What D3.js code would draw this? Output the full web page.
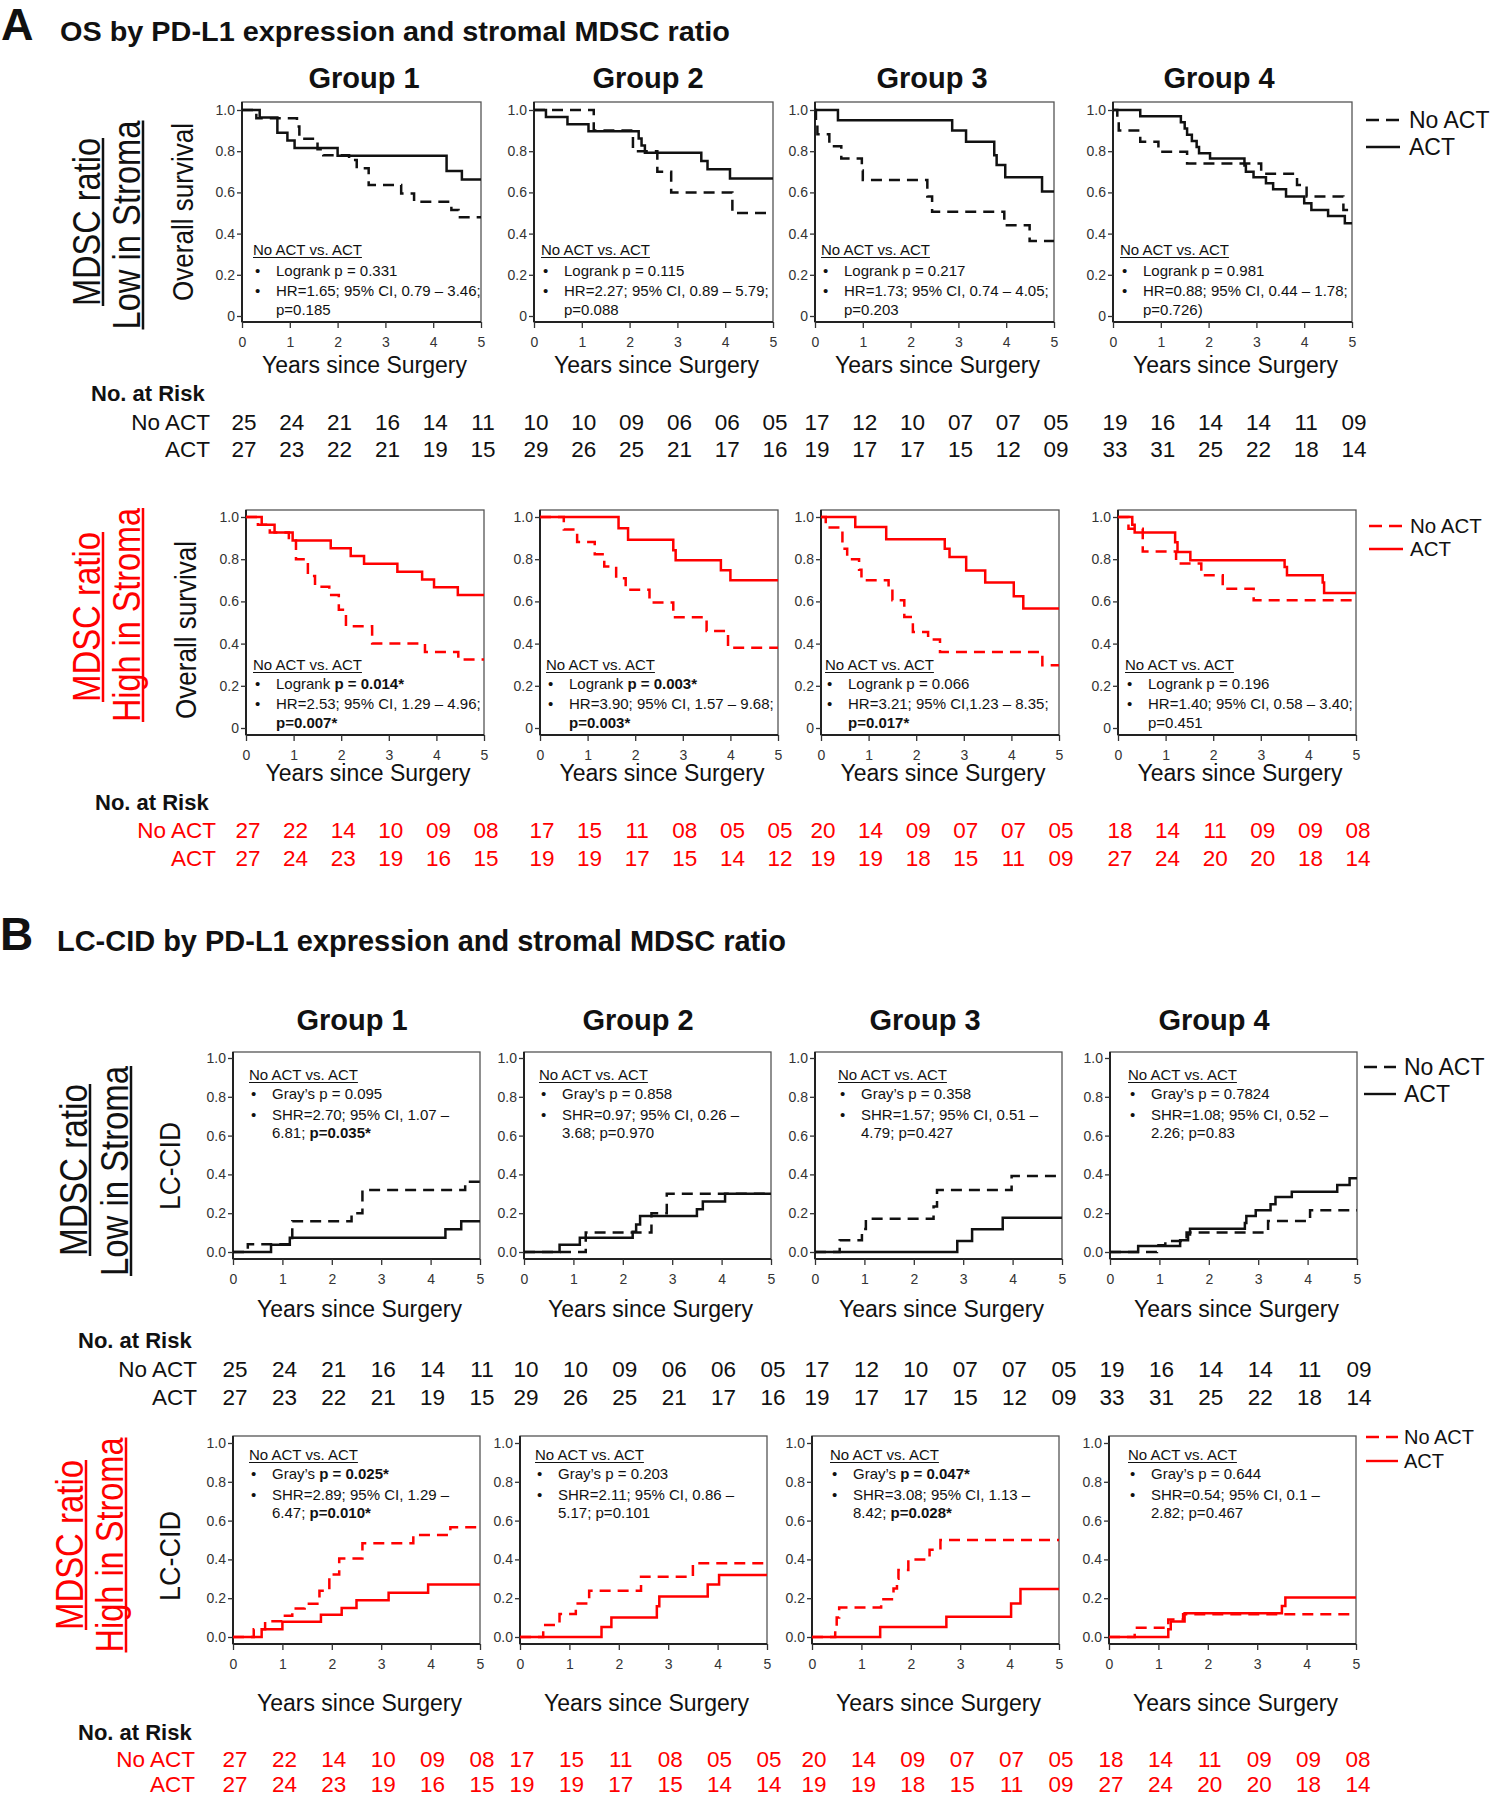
<!DOCTYPE html>
<html><head><meta charset="utf-8">
<script src="https://cdn.jsdelivr.net/npm/d3@7"></script>
<style>body{margin:0;background:#fff}svg{display:block}</style>
</head><body>
<svg id="c" width="1491" height="1800"></svg>
<script>
// ---------------- DATA ----------------
const groups = ["Group 1","Group 2","Group 3","Group 4"];
const years = [0,1,2,3,4,5];
const yTicks = [0,0.2,0.4,0.6,0.8,1.0];
const osTickLabels = ["0","0.2","0.4","0.6","0.8","1.0"];
const cidTickLabels = ["0.0","0.2","0.4","0.6","0.8","1.0"];
const seriesNames = ["No ACT","ACT"];
const statHeading = "No ACT vs. ACT";

// Overall survival, MDSC ratio low in stroma  [years, survival]
const osLowNoACT = [
  [[0,1],[0.3,0.96],[1.15,0.92],[1.2,0.86],[1.58,0.81],[1.7,0.78],[2.24,0.757],[2.4,0.717],[2.65,0.636],[3.33,0.595],[3.6,0.555],[4.38,0.515],[4.53,0.479]],
  [[0,1],[1.25,0.9],[2.07,0.8],[2.58,0.7],[2.87,0.6],[4.15,0.5]],
  [[0,1],[0.02,0.941],[0.05,0.882],[0.3,0.824],[0.55,0.765],[0.98,0.706],[1.0,0.66],[2.35,0.58],[2.45,0.506],[3.96,0.44],[4.49,0.364]],
  [[0,1],[0.09,0.947],[0.12,0.9],[0.57,0.846],[0.95,0.797],[1.55,0.74],[3.1,0.69],[3.85,0.636],[4.05,0.58],[4.82,0.515]]
];
const osLowACT = [
  [[0,1],[0.37,0.963],[0.74,0.889],[0.95,0.852],[1.1,0.815],[2.0,0.778],[4.28,0.704],[4.6,0.663]],
  [[0,1],[0.25,0.966],[0.7,0.931],[1.14,0.897],[2.19,0.862],[2.25,0.828],[2.32,0.793],[3.5,0.752],[3.63,0.712],[4.1,0.668]],
  [[0,1],[0.48,0.95],[2.87,0.9],[3.16,0.846],[3.75,0.78],[3.8,0.733],[3.98,0.673],[4.75,0.604]],
  [[0,1],[0.57,0.97],[1.42,0.94],[1.5,0.91],[1.55,0.88],[1.65,0.85],[1.75,0.82],[1.8,0.79],[2.03,0.765],[2.75,0.73],[2.78,0.70],[2.94,0.673],[3.2,0.644],[3.35,0.615],[3.62,0.58],[4.0,0.547],[4.15,0.515],[4.5,0.485],[4.85,0.45]]
];
// Overall survival, MDSC ratio high in stroma
const osHighNoACT = [
  [[0,1],[0.25,0.963],[0.5,0.926],[0.9,0.889],[1.05,0.80],[1.3,0.72],[1.45,0.67],[1.75,0.63],[1.95,0.56],[2.1,0.482],[2.65,0.40],[3.76,0.36],[4.46,0.325]],
  [[0,1],[0.5,0.941],[0.78,0.882],[1.15,0.824],[1.35,0.765],[1.6,0.71],[1.8,0.655],[2.3,0.595],[2.8,0.525],[3.5,0.46],[3.95,0.38]],
  [[0,1],[0.1,0.95],[0.45,0.85],[0.55,0.8],[0.8,0.75],[0.85,0.7],[1.42,0.65],[1.5,0.605],[1.75,0.526],[1.93,0.455],[2.25,0.42],[2.5,0.36],[4.65,0.297]],
  [[0,1],[0.22,0.944],[0.52,0.837],[1.22,0.78],[1.75,0.724],[2.2,0.66],[2.85,0.605]]
];
const osHighACT = [
  [[0,1],[0.33,0.963],[0.6,0.926],[0.98,0.889],[1.78,0.852],[2.2,0.815],[2.48,0.778],[3.18,0.741],[3.7,0.704],[3.95,0.667],[4.45,0.63]],
  [[0,1],[1.65,0.947],[1.85,0.892],[2.8,0.842],[2.85,0.795],[3.8,0.748],[4.0,0.70]],
  [[0,1],[0.72,0.953],[1.37,0.894],[2.6,0.85],[2.7,0.81],[3.05,0.747],[3.45,0.69],[4.05,0.625],[4.25,0.566]],
  [[0,1],[0.3,0.963],[0.35,0.926],[1.2,0.88],[1.25,0.834],[1.52,0.795],[3.5,0.763],[3.55,0.724],[4.3,0.69],[4.33,0.64]]
];
// LC-CID (cumulative incidence), MDSC ratio low in stroma
const cidLowNoACT = [
  [[0,0],[0.3,0.04],[1.2,0.159],[2.4,0.2],[2.62,0.319],[4.7,0.362]],
  [[0,0],[1.25,0.1],[2.58,0.2],[2.89,0.3]],
  [[0,0],[0.5,0.06],[0.95,0.118],[1.03,0.172],[2.4,0.235],[2.47,0.32],[3.98,0.392]],
  [[0,0],[0.95,0.035],[1.12,0.057],[1.55,0.10],[3.2,0.16],[4.05,0.215]]
];
const cidLowACT = [
  [[0,0],[0.77,0.037],[1.15,0.074],[4.3,0.117],[4.62,0.159]],
  [[0,0],[0.72,0.038],[1.13,0.073],[2.2,0.105],[2.27,0.142],[2.35,0.185],[3.5,0.22],[3.62,0.26],[4.07,0.30]],
  [[0,0],[2.88,0.057],[3.18,0.117],[3.8,0.177]],
  [[0,0],[0.57,0.031],[1.42,0.06],[1.58,0.09],[1.62,0.12],[2.73,0.15],[2.76,0.186],[2.95,0.215],[3.25,0.246],[3.35,0.284],[3.68,0.31],[4.6,0.346],[4.85,0.38]]
];
// LC-CID, MDSC ratio high in stroma
const cidHighNoACT = [
  [[0,0],[0.42,0.04],[0.65,0.081],[1.0,0.11],[1.2,0.147],[1.45,0.172],[1.75,0.238],[1.95,0.322],[2.15,0.405],[2.62,0.483],[3.65,0.526],[4.4,0.566]],
  [[0,0],[0.47,0.062],[0.8,0.118],[1.13,0.173],[1.4,0.239],[2.45,0.311],[3.5,0.38]],
  [[0,0],[0.47,0.05],[0.5,0.10],[0.55,0.152],[1.4,0.195],[1.65,0.25],[1.72,0.30],[1.75,0.346],[1.95,0.40],[2.38,0.45],[2.6,0.50]],
  [[0,0],[0.52,0.048],[1.2,0.09],[1.5,0.117]]
];
const cidHighACT = [
  [[0,0],[0.58,0.04],[1.0,0.078],[1.78,0.115],[2.2,0.15],[2.5,0.19],[3.15,0.228],[3.95,0.27]],
  [[0,0],[1.65,0.052],[1.85,0.10],[2.77,0.158],[2.82,0.209],[3.8,0.27],[4.03,0.32]],
  [[0,0],[1.38,0.052],[2.72,0.104],[4.03,0.173],[4.22,0.247]],
  [[0,0],[1.2,0.04],[1.25,0.08],[1.53,0.123],[3.5,0.16],[3.57,0.204]]
];

// statistics text ([...] = bold)
const osLowStats = [
  ["Logrank p = 0.331","HR=1.65; 95% CI, 0.79 – 3.46;","p=0.185"],
  ["Logrank p = 0.115","HR=2.27; 95% CI, 0.89 – 5.79;","p=0.088"],
  ["Logrank p = 0.217","HR=1.73; 95% CI, 0.74 – 4.05;","p=0.203"],
  ["Logrank p = 0.981","HR=0.88; 95% CI, 0.44 – 1.78;","p=0.726)"]
];
const osHighStats = [
  ["Logrank [p = 0.014*]","HR=2.53; 95% CI, 1.29 – 4.96;","[p=0.007*]"],
  ["Logrank [p = 0.003*]","HR=3.90; 95% CI, 1.57 – 9.68;","[p=0.003*]"],
  ["Logrank p = 0.066","HR=3.21; 95% CI,1.23 – 8.35;","[p=0.017*]"],
  ["Logrank p = 0.196","HR=1.40; 95% CI, 0.58 – 3.40;","p=0.451"]
];
const cidLowStats = [
  ["Gray’s p = 0.095","SHR=2.70; 95% CI, 1.07 –","6.81; [p=0.035*]"],
  ["Gray’s p = 0.858","SHR=0.97; 95% CI, 0.26 –","3.68; p=0.970"],
  ["Gray’s p = 0.358","SHR=1.57; 95% CI, 0.51 –","4.79; p=0.427"],
  ["Gray’s p = 0.7824","SHR=1.08; 95% CI, 0.52 –","2.26; p=0.83"]
];
const cidHighStats = [
  ["Gray’s [p = 0.025*]","SHR=2.89; 95% CI, 1.29 –","6.47; [p=0.010*]"],
  ["Gray’s p = 0.203","SHR=2.11; 95% CI, 0.86 –","5.17; p=0.101"],
  ["Gray’s [p = 0.047*]","SHR=3.08; 95% CI, 1.13 –","8.42; [p=0.028*]"],
  ["Gray’s p = 0.644","SHR=0.54; 95% CI, 0.1 –","2.82; p=0.467"]
];

// numbers at risk
const riskOsLowNoACT  = [["25","24","21","16","14","11"],["10","10","09","06","06","05"],["17","12","10","07","07","05"],["19","16","14","14","11","09"]];
const riskOsLowACT    = [["27","23","22","21","19","15"],["29","26","25","21","17","16"],["19","17","17","15","12","09"],["33","31","25","22","18","14"]];
const riskOsHighNoACT = [["27","22","14","10","09","08"],["17","15","11","08","05","05"],["20","14","09","07","07","05"],["18","14","11","09","09","08"]];
const riskOsHighACT   = [["27","24","23","19","16","15"],["19","19","17","15","14","12"],["19","19","18","15","11","09"],["27","24","20","20","18","14"]];
const riskCidLowNoACT  = [["25","24","21","16","14","11"],["10","10","09","06","06","05"],["17","12","10","07","07","05"],["19","16","14","14","11","09"]];
const riskCidLowACT    = [["27","23","22","21","19","15"],["29","26","25","21","17","16"],["19","17","17","15","12","09"],["33","31","25","22","18","14"]];
const riskCidHighNoACT = [["27","22","14","10","09","08"],["17","15","11","08","05","05"],["20","14","09","07","07","05"],["18","14","11","09","09","08"]];
const riskCidHighACT   = [["27","24","23","19","16","15"],["19","19","17","15","14","14"],["19","19","18","15","11","09"],["27","24","20","20","18","14"]];

// ---------------- DRAWING ----------------
const F = "'Liberation Sans', Arial, Helvetica, sans-serif";
const FN = "'Liberation Sans Narrow', 'Arial Narrow', 'Liberation Sans', Arial, sans-serif";
const RED = "#ff0000", BLK = "#111";
const svg = d3.select("#c");

function richText(sel, str) {
  str.split(/(\[[^\]]*\])/).filter(s => s.length).forEach(part => {
    if (part[0] === "[") sel.append("tspan").attr("font-weight","bold").text(part.slice(1,-1));
    else sel.append("tspan").text(part);
  });
}

function vText(txt, bx, cy, size, len, color, underline) {
  svg.append("text").attr("transform",`translate(${bx},${cy}) rotate(-90)`)
    .attr("text-anchor","middle").attr("font-family",FN).attr("font-size",size)
    .attr("fill",color).attr("textLength",len).attr("lengthAdjust","spacingAndGlyphs").text(txt);
  if (underline) {
    svg.append("line").attr("x1",bx+3).attr("x2",bx+3).attr("y1",cy-len/2).attr("y2",cy+len/2)
      .attr("stroke",color).attr("stroke-width",2.5);
  }
}

function drawRow(c) {
  groups.forEach((g, i) => {
    const x0 = c.xs[i];
    const x = d3.scaleLinear().domain([0,5]).range([x0, x0 + c.w]);
    const y = d3.scaleLinear().domain([0,1]).range([c.yBot, c.yTop]);
    const gp = svg.append("g");
    gp.append("rect").attr("x",x0).attr("y",c.top).attr("width",c.w).attr("height",c.axis-c.top)
      .attr("fill","none").attr("stroke","#555").attr("stroke-width",1.3);
    gp.append("line").attr("x1",x0).attr("x2",x0).attr("y1",c.top).attr("y2",c.axis).attr("stroke","#222").attr("stroke-width",2);
    gp.append("line").attr("x1",x0).attr("x2",x0+c.w).attr("y1",c.axis).attr("y2",c.axis).attr("stroke","#222").attr("stroke-width",2);

    const gy = gp.append("g").attr("transform",`translate(${x0},0)`)
      .call(d3.axisLeft(y).tickValues(yTicks).tickFormat((d,j)=>c.tickLabels[j]).tickSize(5).tickSizeOuter(0).tickPadding(2));
    gy.select(".domain").remove();
    gy.selectAll("line").attr("stroke","#333").attr("stroke-width",1.3);
    gy.selectAll("text").attr("font-family",F).attr("font-size",14).attr("fill","#333");

    const gx = gp.append("g").attr("transform",`translate(0,${c.axis})`)
      .call(d3.axisBottom(x).tickValues(years).tickFormat(d3.format("d")).tickSize(6).tickSizeOuter(0).tickPadding(9));
    gx.select(".domain").remove();
    gx.selectAll("line").attr("stroke","#333").attr("stroke-width",1.3);
    gx.selectAll("text").attr("font-family",F).attr("font-size",14).attr("fill","#333");

    const line = d3.line().x(d=>x(d[0])).y(d=>y(d[1])).curve(d3.curveStepAfter);
    const ext = a => a.concat([[5, a[a.length-1][1]]]);
    gp.append("path").datum(ext(c.noAct[i])).attr("d",line).attr("fill","none")
      .attr("stroke",c.color).attr("stroke-width",2.5).attr("stroke-dasharray","11,7");
    gp.append("path").datum(ext(c.act[i])).attr("d",line).attr("fill","none")
      .attr("stroke",c.color).attr("stroke-width",2.5);

    // statistics box text
    const sx = x0 + c.statDx[i];
    const ht = gp.append("text").attr("x",sx).attr("y",c.statY[0]).attr("font-family",F).attr("font-size",15).attr("fill","#111").text(statHeading);
    const hl = ht.node().getComputedTextLength();
    gp.append("line").attr("x1",sx).attr("x2",sx+hl).attr("y1",c.statY[0]+2.5).attr("y2",c.statY[0]+2.5).attr("stroke","#111").attr("stroke-width",1.2);
    c.stats[i].forEach((s, k) => {
      if (k < 2) gp.append("text").attr("x",sx+2).attr("y",c.statY[k+1]).attr("font-family",F).attr("font-size",15).attr("fill","#111").text("•");
      const t = gp.append("text").attr("x",sx+23).attr("y",c.statY[k+1]).attr("font-family",F).attr("font-size",15).attr("fill","#111");
      richText(t, s);
    });

    gp.append("text").attr("x",x0 + c.w/2 + 3).attr("y",c.xTitleY).attr("text-anchor","middle")
      .attr("font-family",F).attr("font-size",23).attr("fill","#111").text("Years since Surgery");

    // numbers at risk
    [c.riskNo[i], c.riskAct[i]].forEach((row, r) => {
      row.forEach((v, k) => {
        svg.append("text").attr("x",x(years[k]) + 2).attr("y",c.riskY[r]).attr("text-anchor","middle")
          .attr("font-family",F).attr("font-size",22.5).attr("fill",c.riskColor).text(v);
      });
    });
  });

  // group titles
  if (c.titles) groups.forEach((g,i) => {
    svg.append("text").attr("x",c.titles.x[i]).attr("y",c.titles.y).attr("text-anchor","middle")
      .attr("font-family",F).attr("font-weight","bold").attr("font-size",29).attr("fill","#111").text(g);
  });

  // risk table labels
  svg.append("text").attr("x",c.riskTitleX).attr("y",c.riskTitleY).attr("font-family",F)
    .attr("font-weight","bold").attr("font-size",22).attr("fill","#111").text("No. at Risk");
  seriesNames.forEach((s, r) => {
    svg.append("text").attr("x",c.riskLabelX).attr("y",c.riskY[r]).attr("text-anchor","end")
      .attr("font-family",F).attr("font-size",22.5).attr("fill",c.riskColor).text(s);
  });

  // legend
  const L = c.legend;
  seriesNames.forEach((s, r) => {
    svg.append("line").attr("x1",L.x1).attr("x2",L.x2).attr("y1",L.y[r]).attr("y2",L.y[r])
      .attr("stroke",c.color).attr("stroke-width",2.4).attr("stroke-dasharray", r===0 ? "13,7" : null);
    svg.append("text").attr("x",L.tx).attr("y",L.y[r]+L.fs*0.36).attr("font-family",F).attr("font-size",L.fs)
      .attr("fill","#111").text(s);
  });

  // left labels
  c.side.forEach(s => vText(s.t, s.bx, s.cy, 38, s.len, c.sideColor, true));
  vText(c.ylab.t, c.ylab.bx, c.ylab.cy, 30, c.ylab.len, "#111", false);
}

// panel titles
svg.append("text").attr("x",1).attr("y",40).attr("font-family",F).attr("font-weight","bold").attr("font-size",45).attr("fill","#111").text("A");
svg.append("text").attr("x",60).attr("y",41).attr("font-family",F).attr("font-weight","bold").attr("font-size",28.5)
  .attr("textLength",670).attr("lengthAdjust","spacingAndGlyphs").attr("fill","#111").text("OS by PD-L1 expression and stromal MDSC ratio");
svg.append("text").attr("x",0).attr("y",950).attr("font-family",F).attr("font-weight","bold").attr("font-size",46).attr("fill","#111").text("B");
svg.append("text").attr("x",57).attr("y",951).attr("font-family",F).attr("font-weight","bold").attr("font-size",29)
  .attr("textLength",729).attr("lengthAdjust","spacingAndGlyphs").attr("fill","#111").text("LC-CID by PD-L1 expression and stromal MDSC ratio");

drawRow({
  xs:[242,534,815,1113], w:239, top:102, yTop:110, yBot:316, axis:322,
  color:BLK, tickLabels:osTickLabels, noAct:osLowNoACT, act:osLowACT, stats:osLowStats,
  statY:[255,276,296,315], statDx:[11,7,6,7], xTitleY:373,
  riskNo:riskOsLowNoACT, riskAct:riskOsLowACT, riskY:[430,457], riskColor:BLK,
  riskTitleX:91, riskTitleY:401, riskLabelX:210,
  titles:{x:[364,648,932,1219], y:88},
  legend:{x1:1366, x2:1400, tx:1409, y:[120,147], fs:23},
  side:[{t:"MDSC ratio", bx:100, cy:222, len:168},{t:"Low in Stroma", bx:140, cy:225, len:209}], sideColor:BLK,
  ylab:{t:"Overall survival", bx:193, cy:212, len:178}
});
drawRow({
  xs:[246,540,821,1118], w:238, top:510, yTop:517, yBot:728, axis:735,
  color:RED, tickLabels:osTickLabels, noAct:osHighNoACT, act:osHighACT, stats:osHighStats,
  statY:[670,689,709,728], statDx:[7,6,4,7], xTitleY:781,
  riskNo:riskOsHighNoACT, riskAct:riskOsHighACT, riskY:[838,866], riskColor:RED,
  riskTitleX:95, riskTitleY:810, riskLabelX:216,
  titles:null,
  legend:{x1:1369, x2:1403, tx:1410, y:[526,549], fs:20.5},
  side:[{t:"MDSC ratio", bx:100, cy:617, len:170},{t:"High in Stroma", bx:140, cy:615, len:214}], sideColor:RED,
  ylab:{t:"Overall survival", bx:196, cy:630, len:178}
});
drawRow({
  xs:[233,524,815,1110], w:247, top:1052, yTop:1058, yBot:1252, axis:1259,
  color:BLK, tickLabels:cidTickLabels, noAct:cidLowNoACT, act:cidLowACT, stats:cidLowStats,
  statY:[1080,1099,1120,1138], statDx:[16,15,23,18], xTitleY:1317,
  riskNo:riskCidLowNoACT, riskAct:riskCidLowACT, riskY:[1377,1405], riskColor:BLK,
  riskTitleX:78, riskTitleY:1348, riskLabelX:197,
  titles:{x:[352,638,925,1214], y:1030},
  legend:{x1:1364, x2:1396, tx:1404, y:[1067,1094], fs:23},
  side:[{t:"MDSC ratio", bx:87, cy:1170, len:172},{t:"Low in Stroma", bx:128, cy:1171, len:210}], sideColor:BLK,
  ylab:{t:"LC-CID", bx:180, cy:1166, len:88}
});
drawRow({
  xs:[233,520,812,1109], w:247, top:1436, yTop:1443, yBot:1637, axis:1644,
  color:RED, tickLabels:cidTickLabels, noAct:cidHighNoACT, act:cidHighACT, stats:cidHighStats,
  statY:[1460,1479,1500,1518], statDx:[16,15,18,19], xTitleY:1711,
  riskNo:riskCidHighNoACT, riskAct:riskCidHighACT, riskY:[1767,1792], riskColor:RED,
  riskTitleX:78, riskTitleY:1740, riskLabelX:195,
  titles:null,
  legend:{x1:1366, x2:1398, tx:1404, y:[1437,1461], fs:20},
  side:[{t:"MDSC ratio", bx:83, cy:1545, len:170},{t:"High in Stroma", bx:123, cy:1545, len:215}], sideColor:RED,
  ylab:{t:"LC-CID", bx:180, cy:1556, len:90}
});
</script>
</body></html>
